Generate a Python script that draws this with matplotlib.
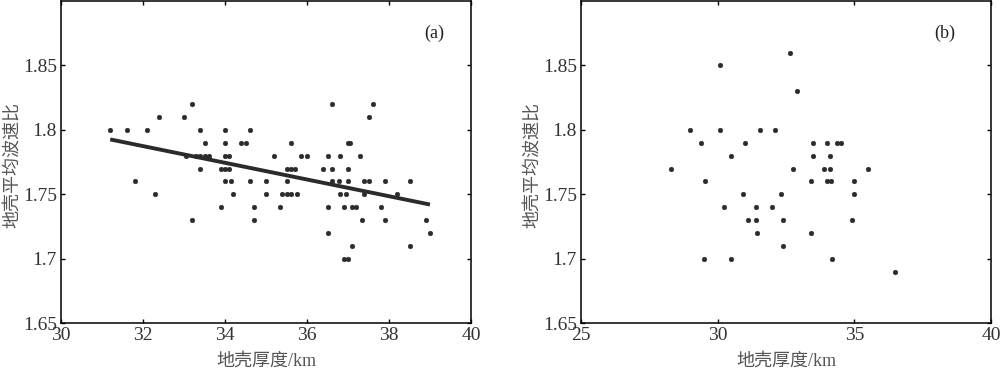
import numpy as np
import matplotlib
matplotlib.use("Agg")
import matplotlib.pyplot as plt

# ---- data panel (a) ----
a_x = [33.2, 36.6, 37.6,
       32.4, 33.0, 37.5,
       31.2, 31.6, 32.1, 33.4, 34.0, 34.6,
       33.5, 34.0, 34.4, 34.5, 35.6, 37.0, 37.05,
       33.05, 33.3, 33.4, 33.5, 33.6, 34.0, 34.1, 35.2, 35.85, 36.0, 36.5, 36.8, 37.3,
       33.4, 33.9, 34.0, 34.1, 35.5, 35.6, 35.7, 36.4, 36.6, 37.0,
       31.8, 34.0, 34.15, 34.6, 35.0, 35.5, 36.6, 36.78, 37.0, 37.4, 37.5, 37.9, 38.5,
       32.3, 34.2, 35.0, 35.4, 35.5, 35.6, 35.75, 36.8, 36.95, 37.4, 38.2,
       33.9, 34.7, 35.35, 36.5, 36.9, 37.1, 37.2, 37.8,
       33.2, 34.7, 37.35, 37.9, 38.9,
       36.5, 39.0,
       37.1, 38.5,
       36.9, 37.0]
a_y = [1.82] * 3 + [1.81] * 3 + [1.80] * 6 + [1.79] * 7 + [1.78] * 13 + [1.77] * 10 + \
      [1.76] * 13 + [1.75] * 11 + [1.74] * 8 + [1.73] * 5 + [1.72] * 2 + [1.71] * 2 + [1.70] * 2

# ---- data panel (b) ----
b_x = [32.65, 30.1, 32.9,
       29.0, 30.1, 31.55, 32.1,
       29.4, 31.0, 33.5, 34.0, 34.38, 34.52,
       30.5, 33.5, 34.1,
       28.3, 32.77, 33.9, 34.1, 35.5,
       29.55, 33.4, 34.0, 34.16, 35.0,
       30.93, 32.3, 35.0,
       30.25, 31.4, 32.0,
       31.1, 31.4, 32.4, 34.9,
       31.43, 33.4,
       32.4,
       29.5, 30.5, 34.17,
       36.5]
b_y = [1.86, 1.85, 1.83,
       1.80, 1.80, 1.80, 1.80,
       1.79, 1.79, 1.79, 1.79, 1.79, 1.79,
       1.78, 1.78, 1.78,
       1.77, 1.77, 1.77, 1.77, 1.77,
       1.76, 1.76, 1.76, 1.76, 1.76,
       1.75, 1.75, 1.75,
       1.74, 1.74, 1.74,
       1.73, 1.73, 1.73, 1.73,
       1.72, 1.72,
       1.71,
       1.70, 1.70, 1.70,
       1.69]

y_ticks = [1.65, 1.70, 1.75, 1.80, 1.85]
y_tick_labels = ['1.65', '1.7', '1.75', '1.8', '1.85']
a_xticks = [30, 32, 34, 36, 38, 40]
b_xticks = [25, 30, 35, 40]
xlabel = '地壳厚度/km'
ylabel = '地壳平均波速比'

NUM = ['Liberation Serif', 'Noto Sans CJK SC']
plt.rcParams['font.family'] = NUM
dark = '#2b2b2b'

fig = plt.figure(figsize=(10, 3.73), dpi=100)
axa = fig.add_axes([0.061, 0.134, 0.410, 0.863])
axb = fig.add_axes([0.581, 0.134, 0.410, 0.863])


def style(ax, xticks, xlim, tag, tagx):
    ax.set_xlim(*xlim)
    ax.set_ylim(1.65, 1.9)
    ax.set_xticks(xticks)
    ax.set_xticklabels([str(t) for t in xticks])
    ax.set_yticks(y_ticks)
    ax.set_yticklabels(y_tick_labels)
    ax.tick_params(direction='in', length=3, width=1, top=True, right=True,
                   labelsize=14, colors='black', labelcolor='#333333', pad=3)
    for s in ax.spines.values():
        s.set_linewidth(1.1)
    ax.set_xlabel(xlabel, fontsize=13, color='#555555', family=NUM, labelpad=6)
    ax.set_ylabel(ylabel, fontsize=13, color='#555555', family=['Noto Sans CJK SC'])
    ax.yaxis.set_label_coords(-0.098, 0.49)
    ax.text(tagx, 1.875, tag, fontsize=13, ha='center', va='center', color='#222222')


axa.plot(a_x, a_y, 'o', ms=3.4, color=dark, mec=dark, mew=0.3)
coef = np.polyfit(a_x, a_y, 1)
xs = np.array([min(a_x), max(a_x)])
axa.plot(xs, np.polyval(coef, xs), '-', color=dark, lw=2.8, solid_capstyle='butt')
style(axa, a_xticks, (30, 40), '(a)', 39.1)

axb.plot(b_x, b_y, 'o', ms=3.4, color=dark, mec=dark, mew=0.3)
style(axb, b_xticks, (25, 40), '(b)', 38.3)

fig.savefig('out.png', dpi=100)
